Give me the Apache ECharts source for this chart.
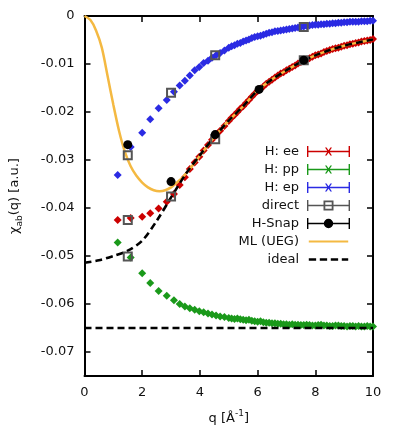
<!DOCTYPE html>
<html>
<head>
<meta charset="utf-8">
<script src="https://cdn.jsdelivr.net/npm/echarts@6/dist/echarts.min.js"></script>
<style>
  html, body { margin: 0; padding: 0; background: #fff; }
  #main { width: 399px; height: 444px; }
</style>
</head>
<body>
<div id="main"></div>
<script>
// q grid of the simulation points (1/Å)
var qGrid = [1.15, 1.6, 2.0, 2.28, 2.57, 2.85, 3.1, 3.3, 3.48, 3.65, 3.82, 3.98, 4.13, 4.28, 4.42,
  4.56, 4.7, 4.85,
  5.0, 5.1, 5.2, 5.3, 5.4, 5.5, 5.6, 5.7, 5.8, 5.9, 6.0, 6.1, 6.2, 6.3, 6.4, 6.5, 6.6, 6.7, 6.8, 6.9,
  7.0, 7.1, 7.2, 7.3, 7.4, 7.5, 7.6, 7.7, 7.8, 7.9, 8.0, 8.1, 8.2, 8.3, 8.4, 8.5, 8.6, 8.7, 8.8, 8.9,
  9.0, 9.1, 9.2, 9.3, 9.4, 9.5, 9.6, 9.7, 9.8, 9.9, 10.0];

var hEE = [-0.0425, -0.0421, -0.0418, -0.0411, -0.0401, -0.0387, -0.0371, -0.0352, -0.0336, -0.0319,
  -0.0305, -0.0293, -0.0280, -0.0269, -0.0258, -0.0249, -0.0239, -0.0229,
  -0.0219, -0.0212, -0.0206, -0.0200, -0.0193, -0.0188, -0.0181, -0.0175, -0.0168, -0.0162,
  -0.0156, -0.0151, -0.0147, -0.0141, -0.0137, -0.0133, -0.0128, -0.0124, -0.0120, -0.0117,
  -0.0113, -0.0110, -0.0106, -0.0103, -0.0099, -0.0096, -0.0093, -0.0091, -0.0088, -0.0085,
  -0.0082, -0.0080, -0.0078, -0.0075, -0.0073, -0.0071, -0.0069, -0.0067, -0.0066, -0.0064,
  -0.0062, -0.0061, -0.0059, -0.0058, -0.0056, -0.0055, -0.0053, -0.0052, -0.0051, -0.0050, -0.0048];

var hPP = [-0.0472, -0.0503, -0.0536, -0.0556, -0.0573, -0.0583, -0.0592, -0.0600, -0.0605, -0.0609,
  -0.0612, -0.0615, -0.0617, -0.0620, -0.0622, -0.0624, -0.0626, -0.0627,
  -0.0629, -0.0630, -0.0631, -0.0630, -0.0632, -0.0633, -0.0634, -0.0633, -0.0635, -0.0636,
  -0.0637, -0.0636, -0.0638, -0.0639, -0.0639, -0.0640, -0.0640, -0.0641, -0.0641, -0.0642,
  -0.0642, -0.0643, -0.0642, -0.0643, -0.0643, -0.0644, -0.0644, -0.0643, -0.0644, -0.0645,
  -0.0645, -0.0644, -0.0643, -0.0645, -0.0645, -0.0646, -0.0646, -0.0645, -0.0645, -0.0646,
  -0.0646, -0.0647, -0.0646, -0.0646, -0.0647, -0.0646, -0.0647, -0.0647, -0.0646, -0.0647, -0.0647];

var hEP = [-0.0331, -0.0273, -0.0243, -0.0215, -0.0192, -0.0175, -0.0158, -0.0145, -0.0135, -0.0124,
  -0.0113, -0.0106, -0.0098, -0.0093, -0.0087, -0.0082, -0.0077, -0.0072,
  -0.0066, -0.0063, -0.0061, -0.0058, -0.0056, -0.0053, -0.0051, -0.0049, -0.0046, -0.0044,
  -0.0042, -0.0041, -0.0039, -0.0037, -0.0035, -0.0034, -0.0032, -0.0031, -0.0030, -0.0029,
  -0.0028, -0.0027, -0.0026, -0.0025, -0.0024, -0.0023, -0.0022, -0.0021, -0.0020, -0.0019,
  -0.0018, -0.0018, -0.0017, -0.0017, -0.0016, -0.0016, -0.0015, -0.0015, -0.0014, -0.0014,
  -0.0013, -0.0013, -0.0012, -0.0012, -0.0012, -0.0012, -0.0011, -0.0011, -0.0011, -0.0010, -0.0010];

// direct (squares) and H-Snap (circles)
var directQ = [1.5, 1.5, 1.5, 3.0, 3.0, 4.53, 4.53, 7.6, 7.6];
var directV = [-0.0290, -0.0425, -0.0501, -0.0160, -0.0376, -0.0082, -0.0257, -0.0023, -0.0092];
var snapQ = [1.5, 3.0, 4.53, 6.05, 7.6];
var snapV = [-0.0268, -0.0345, -0.0247, -0.0153, -0.0092];

// ML (UEG) curve
var mlQ = [0, 0.2, 0.4, 0.6, 0.8, 1.0, 1.2, 1.4, 1.6, 1.8, 2.0, 2.2, 2.4, 2.6, 2.8, 3.0, 3.2, 3.4,
  3.6, 3.8, 4.0, 4.5, 5.0, 5.5, 6.0, 6.5, 7.0, 7.5, 8.0, 8.5, 9.0, 9.5, 10.0];
var mlV = [0, -0.0008, -0.0030, -0.0066, -0.0125, -0.0185, -0.0240, -0.0283, -0.0313, -0.0333,
  -0.0347, -0.0357, -0.0363, -0.0365, -0.0363, -0.0357, -0.0347, -0.0336, -0.0322, -0.0307, -0.0291,
  -0.0252, -0.0218, -0.0188, -0.0155, -0.0132, -0.0113, -0.0096, -0.0082, -0.0071, -0.0062, -0.0055, -0.0049];

// ideal curve and ideal pp limit
var idealQ = [0, 0.5, 1.0, 1.5, 2.0, 2.5, 3.0, 3.5, 4.0, 4.5, 5.0, 5.5, 6.0, 6.5, 7.0, 7.5, 8.0,
  8.5, 9.0, 9.5, 10.0];
var idealV = [-0.0514, -0.0509, -0.0500, -0.0489, -0.0468, -0.0427, -0.0378, -0.0330, -0.0290,
  -0.0252, -0.0218, -0.0188, -0.0155, -0.0132, -0.0113, -0.0096, -0.0082, -0.0071, -0.0062, -0.0055, -0.0049];
var idealFlatQ = [0, 10];
var idealFlatV = [-0.065, -0.065];

var xTicks = [0, 2, 4, 6, 8, 10];
var yTicks = [0, -0.01, -0.02, -0.03, -0.04, -0.05, -0.06, -0.07];

function pairs(xs, ys) {
  return xs.map(function (x, i) { return [x, ys[i]]; });
}

var FONT = 'DejaVu Sans';
var cRed = '#cc0000', cGreen = '#1a991a', cBlue = '#2b2be3', cGray = '#555555', cOrange = '#f4b942';

// legend icons: error bar with marker, drawn in a 43 x 11 box
var capsBar = 'M0 0.5H1.4V11.5H0Z M41.6 0.5H43V11.5H41.6Z ';
var iconX = 'path://' + capsBar + 'M0 5.3H43V6.7H0Z M18 2L19.6 2L25 10L23.4 10Z M23.4 2L25 2L19.6 10L18 10Z';
var iconSq = 'path://' + capsBar + 'M0 5.3H16.5V6.7H0Z M26.5 5.3H43V6.7H26.5Z M16.5 1H26.5V11H16.5Z M18.3 2.8V9.2H24.7V2.8Z M18.3 5.3H24.7V6.7H18.3Z';
var iconDot = 'path://' + capsBar + 'M0 5.3H43V6.7H0Z M16.8 6A4.7 4.7 0 1 1 26.2 6A4.7 4.7 0 1 1 16.8 6Z';
var iconLine = 'path://M0 0H43V0.1H0Z M0 4.8H43V7.2H0Z M0 11.9H43V12H0Z';
var iconDash = 'path://M0 0H43V0.1H0Z M0 4.7H8V7.3H0Z M12 4.7H20V7.3H12Z M24 4.7H32V7.3H24Z M36 4.7H43V7.3H36Z M0 11.9H43V12H0Z';

var dom = document.getElementById('main');
var myChart = echarts.init(dom);

var axisLine = { onZero: false, lineStyle: { color: '#000', width: 2 } };
var axisTick = { inside: true, length: 6, lineStyle: { color: '#000', width: 1.5 } };

var option = {
  backgroundColor: '#fff',
  animation: false,
  grid: { left: 82, right: 26, top: 16, bottom: 68, containLabel: false },
  legend: {
    orient: 'vertical',
    right: 44,
    top: 140,
    align: 'right',
    itemWidth: 43,
    itemHeight: 11,
    itemGap: 5,
    textStyle: { fontFamily: FONT, fontSize: 13, color: '#111', lineHeight: 11, padding: [0, 3, 0, 0] },
    data: [
      { name: 'H: ee', icon: iconX, itemStyle: { color: cRed } },
      { name: 'H: pp', icon: iconX, itemStyle: { color: cGreen } },
      { name: 'H: ep', icon: iconX, itemStyle: { color: cBlue } },
      { name: 'direct', icon: iconSq, itemStyle: { color: cGray } },
      { name: 'H-Snap', icon: iconDot, itemStyle: { color: '#000' } },
      { name: 'ML (UEG)', icon: iconLine, itemStyle: { color: cOrange } },
      { name: 'ideal', icon: iconDash, itemStyle: { color: '#000' } }
    ]
  },
  xAxis: [{
    type: 'value', min: 0, max: 10, interval: 2,
    axisLine: axisLine, axisTick: axisTick, splitLine: { show: false },
    axisLabel: { fontFamily: FONT, fontSize: 13, color: '#111', margin: 10,
      customValues: xTicks },
    name: '{t|q [Å}{s|-1}{t|]}',
    nameLocation: 'middle', nameGap: 33,
    nameTextStyle: {
      fontFamily: FONT, fontSize: 13, color: '#111',
      rich: {
        t: { fontFamily: FONT, fontSize: 13, color: '#111', lineHeight: 20, verticalAlign: 'middle' },
        s: { fontFamily: FONT, fontSize: 9, color: '#111', lineHeight: 12, verticalAlign: 'top' }
      }
    }
  }, {
    type: 'value', position: 'top', min: 0, max: 10, interval: 2,
    axisLine: axisLine, axisTick: axisTick, splitLine: { show: false },
    axisLabel: { show: false }
  }],
  yAxis: [{
    type: 'value', min: -0.075, max: 0,
    axisLine: axisLine,
    axisTick: { inside: true, length: 6, lineStyle: { color: '#000', width: 1.5 }, customValues: yTicks },
    splitLine: { show: false },
    axisLabel: { fontFamily: FONT, fontSize: 13, color: '#111', margin: 10, customValues: yTicks },
    name: '{t|χ}{s|ab}{t|(q) [a.u.]}',
    nameLocation: 'middle', nameGap: 60,
    nameTextStyle: {
      fontFamily: FONT, fontSize: 13, color: '#111',
      rich: {
        t: { fontFamily: FONT, fontSize: 13, color: '#111', lineHeight: 20, verticalAlign: 'middle' },
        s: { fontFamily: FONT, fontSize: 9, color: '#111', lineHeight: 12, verticalAlign: 'bottom' }
      }
    }
  }, {
    type: 'value', position: 'right', min: -0.075, max: 0,
    axisLine: axisLine,
    axisTick: { inside: true, length: 6, lineStyle: { color: '#000', width: 1.5 }, customValues: yTicks },
    splitLine: { show: false },
    axisLabel: { show: false }
  }],
  series: [
    {
      name: 'H: ee', type: 'scatter', symbol: 'diamond', symbolSize: 8,
      itemStyle: { color: cRed, opacity: 1 }, data: pairs(qGrid, hEE)
    },
    {
      name: 'H: pp', type: 'scatter', symbol: 'diamond', symbolSize: 8,
      itemStyle: { color: cGreen, opacity: 1 }, data: pairs(qGrid, hPP)
    },
    {
      name: 'H: ep', type: 'scatter', symbol: 'diamond', symbolSize: 8,
      itemStyle: { color: cBlue, opacity: 1 }, data: pairs(qGrid, hEP)
    },
    {
      name: 'ML (UEG)', type: 'line', symbol: 'none', smooth: 0.3,
      lineStyle: { color: cOrange, width: 2.5 }, itemStyle: { color: cOrange },
      data: pairs(mlQ, mlV), z: 3
    },
    {
      name: 'ideal', type: 'line', symbol: 'none', smooth: 0.3,
      lineStyle: { color: '#000', width: 2.6, type: [7, 4] }, itemStyle: { color: '#000' },
      data: pairs(idealQ, idealV), z: 4
    },
    {
      name: 'ideal', type: 'line', symbol: 'none',
      lineStyle: { color: '#000', width: 2.6, type: [7, 4] }, itemStyle: { color: '#000' },
      data: pairs(idealFlatQ, idealFlatV), z: 4
    },
    {
      name: 'direct', type: 'scatter', symbol: 'path://M0 0H10V10H0Z M2 2V8H8V2Z', symbolSize: 10,
      itemStyle: { color: cGray, opacity: 1 }, data: pairs(directQ, directV), z: 5
    },
    {
      name: 'H-Snap', type: 'scatter', symbol: 'circle', symbolSize: 9,
      itemStyle: { color: '#000', opacity: 1 }, data: pairs(snapQ, snapV), z: 6
    }
  ]
};

if (option && typeof option === 'object') {
  myChart.setOption(option, true);
}
</script>
</body>
</html>
